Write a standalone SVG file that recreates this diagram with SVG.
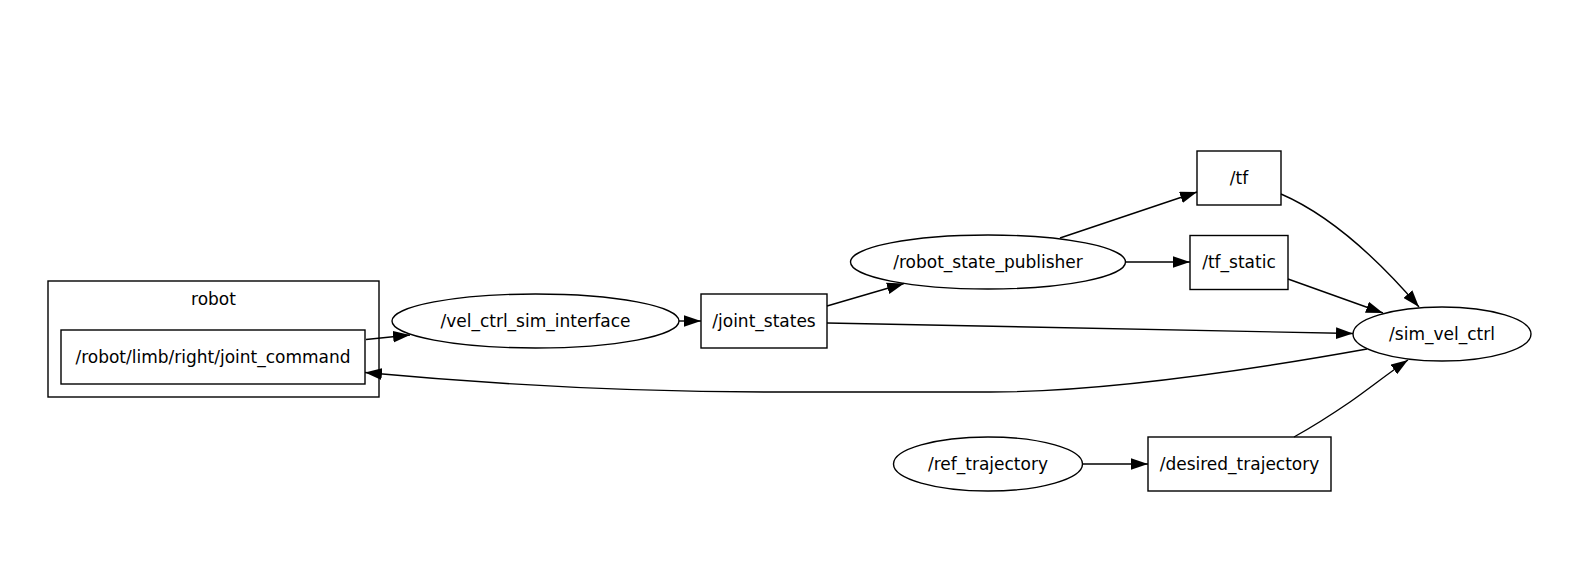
<svg xmlns="http://www.w3.org/2000/svg" width="1592" height="579" viewBox="0 0 1592 579">
<style>
.n{fill:none;stroke:#000;stroke-width:1.4}
.t{font-family:"DejaVu Sans",sans-serif;font-size:17px;text-anchor:middle;fill:#000}
.e{fill:none;stroke:#000;stroke-width:1.4;marker-end:url(#ah)}
</style>
<defs>
<marker id="ah" markerUnits="userSpaceOnUse" markerWidth="17" markerHeight="12" viewBox="0 0 16 11" refX="16" refY="5.5" orient="auto">
<path d="M0,0 L16,5.5 L0,11 z" fill="#000"/>
</marker>
</defs>
<rect width="1592" height="579" fill="#fff"/>
<g id="cluster_robot">
<rect class="n" x="48" y="281" width="331" height="116"/>
<text class="t" x="213.5" y="305">robot</text>
</g>
<g id="node_joint_command">
<rect class="n" x="61" y="330" width="304" height="54"/>
<text class="t" x="213" y="363">/robot/limb/right/joint_command</text>
</g>
<g id="node_vel_ctrl_sim_interface">
<ellipse class="n" cx="535.5" cy="321" rx="143.5" ry="27"/>
<text class="t" x="535.5" y="327">/vel_ctrl_sim_interface</text>
</g>
<g id="node_joint_states">
<rect class="n" x="701" y="294" width="126" height="54"/>
<text class="t" x="764" y="327">/joint_states</text>
</g>
<g id="node_robot_state_publisher">
<ellipse class="n" cx="988" cy="262" rx="137.5" ry="27"/>
<text class="t" x="988" y="268">/robot_state_publisher</text>
</g>
<g id="node_tf">
<rect class="n" x="1197" y="151" width="84" height="54"/>
<text class="t" x="1239" y="184">/tf</text>
</g>
<g id="node_tf_static">
<rect class="n" x="1190" y="235.5" width="98" height="54"/>
<text class="t" x="1239" y="268">/tf_static</text>
</g>
<g id="node_sim_vel_ctrl">
<ellipse class="n" cx="1442" cy="334" rx="89" ry="27"/>
<text class="t" x="1442" y="340">/sim_vel_ctrl</text>
</g>
<g id="node_ref_trajectory">
<ellipse class="n" cx="988" cy="464" rx="94.5" ry="27"/>
<text class="t" x="988" y="470">/ref_trajectory</text>
</g>
<g id="node_desired_trajectory">
<rect class="n" x="1148" y="437" width="183" height="54"/>
<text class="t" x="1239.5" y="470">/desired_trajectory</text>
</g>
<g id="connectors">
<path class="e" d="M366,339.5 L410,335"/>
<path class="e" d="M679,321 L701,321"/>
<path class="e" d="M827,306 L904,283.5"/>
<path class="e" d="M1060,238 L1197,192"/>
<path class="e" d="M1125.5,262 L1190,262"/>
<path class="e" d="M1281,194 C1325,213 1370,250 1419,307"/>
<path class="e" d="M1288,279 L1383,313"/>
<path class="e" d="M827,323 L1353,333.5"/>
<path class="e" d="M1367,349 C1250,370 1100,392 990,392 L770,392 C640,392 500,385 365,372.5"/>
<path class="e" d="M1294,437 C1312,427 1331,415 1350,402 C1370,388 1390,372 1408,360"/>
<path class="e" d="M1082.5,464 L1148,464"/>
</g>
</svg>
